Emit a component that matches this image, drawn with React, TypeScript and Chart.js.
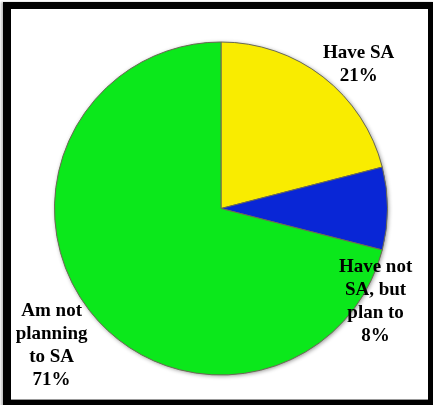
import React, { useEffect, useRef } from "react";
import { Chart, registerables } from "chart.js";

Chart.register(...registerables);

const categories = ["Have SA", "Have not SA, but plan to", "Am not planning to SA"];
const values = [21, 8, 71];
const labelLines = [
  ["Have SA", "21%"],
  ["Have not", "SA, but", "plan to", "8%"],
  ["Am not", "planning", "to SA", "71%"],
];
const colors = ["#F9EC00", "#0926D6", "#0BE81B"];
// label placement: angle (deg, clockwise from top) and distance as a fraction of the radius
const labelAngles = [43.7, 121, 231];
const labelDist = [1.197, 1.083, 1.309];

const labelPlugin = {
  id: "outerLabels",
  beforeDatasetsDraw(chart: any) {
    const meta = chart.getDatasetMeta(0);
    const arc = meta.data[0];
    if (!arc) return;
    const { x, y, outerRadius } = arc.getProps(["x", "y", "outerRadius"], true);
    const ctx = chart.ctx;
    ctx.save();
    ctx.shadowColor = "rgba(0,0,0,0.45)";
    ctx.shadowBlur = 4;
    ctx.shadowOffsetX = 1;
    ctx.shadowOffsetY = 1;
    ctx.fillStyle = "#888";
    ctx.beginPath();
    ctx.arc(x, y, outerRadius, 0, Math.PI * 2);
    ctx.fill();
    ctx.restore();
  },
  afterDatasetsDraw(chart: any) {
    const meta = chart.getDatasetMeta(0);
    const arc = meta.data[0];
    if (!arc) return;
    const { x, y, outerRadius } = arc.getProps(["x", "y", "outerRadius"], true);
    const ctx = chart.ctx;
    ctx.save();
    ctx.font = "bold 19px 'Liberation Serif', 'Times New Roman', serif";
    ctx.fillStyle = "#000";
    ctx.textAlign = "center";
    ctx.textBaseline = "middle";
    const lh = 23;
    labelLines.forEach((lines, i) => {
      const a = (labelAngles[i] * Math.PI) / 180;
      const cx = x + Math.sin(a) * outerRadius * labelDist[i];
      const cy = y - Math.cos(a) * outerRadius * labelDist[i];
      const top = cy - ((lines.length - 1) * lh) / 2;
      lines.forEach((t, j) => ctx.fillText(t, cx, top + j * lh));
    });
    ctx.restore();
  },
};

export default function App() {
  const ref = useRef<HTMLCanvasElement>(null);
  useEffect(() => {
    if (!ref.current) return;
    const chart = new Chart(ref.current, {
      type: "pie",
      data: {
        labels: categories,
        datasets: [
          {
            data: values,
            backgroundColor: colors,
            borderColor: "#6b6b55",
            borderWidth: 1,
            hoverOffset: 0,
          },
        ],
      },
      options: {
        animation: false,
        responsive: false,
        events: [],
        layout: { padding: { top: 41, bottom: 29, left: 54, right: 45 } },
        plugins: {
          legend: { display: false },
          tooltip: { enabled: false },
        },
      },
      plugins: [labelPlugin],
    });
    return () => chart.destroy();
  }, []);
  return (
    <div
      style={{
        position: "fixed",
        left: 0,
        top: 0,
        width: 433,
        height: 405,
        background: "#fff",
        overflow: "hidden",
      }}
    >
      <canvas
        ref={ref}
        width={433}
        height={405}
        style={{ position: "absolute", left: 0, top: 0, width: 433, height: 405 }}
      />
      <div
        style={{
          position: "absolute",
          left: 3,
          top: 2,
          width: 432,
          height: 405,
          boxSizing: "border-box",
          borderStyle: "solid",
          borderColor: "#000",
          borderWidth: "7px 7px 7px 8px",
          boxShadow: "-2px 0 2px rgba(0,0,0,0.25), inset 0 -1px 0 #999",
          pointerEvents: "none",
        }}
      />
    </div>
  );
}
